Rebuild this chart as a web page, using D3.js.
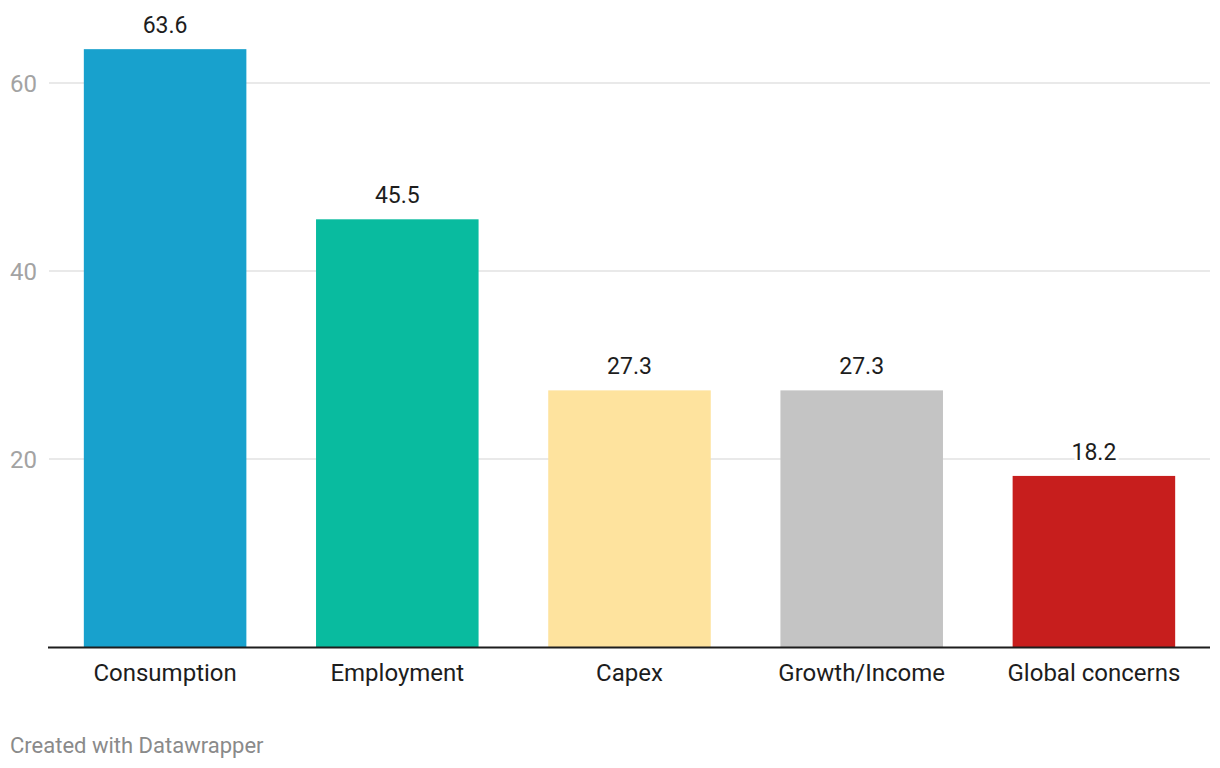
<!DOCTYPE html>
<html><head><meta charset="utf-8">
<script src="https://cdn.jsdelivr.net/npm/d3@7"></script>
<style>body{margin:0;background:#fff;font-family:Roboto,sans-serif;}</style>
</head><body><svg id="c" width="1220" height="768"></svg>
<script>
const categories = ["Consumption","Employment","Capex","Growth/Income","Global concerns"];
const values = [63.6,45.5,27.3,27.3,18.2];
const colors = ["#18a1cd","#09bb9f","#fee39e","#c4c4c4","#c71e1d"];
const yTicks = [20,40,60];

const svg = d3.select("#c");
const x = d3.scaleBand().domain(categories).range([49,1210]).paddingInner(0.3).paddingOuter(0.15);
const y = d3.scaleLinear().domain([0,60]).range([647,83]);

svg.append("g").selectAll("line").data(yTicks).join("line")
  .attr("x1",49).attr("x2",1210).attr("y1",d=>y(d)).attr("y2",d=>y(d))
  .attr("stroke","#e2e2e2").attr("stroke-width",1.5);
svg.append("g").selectAll("text").data(yTicks).join("text")
  .attr("x",10).attr("y",d=>y(d)+8.5).attr("font-size",24).attr("fill","#a3a3a3").text(d=>d);

svg.append("g").selectAll("rect").data(values).join("rect")
  .attr("x",(d,i)=>x(categories[i])).attr("width",x.bandwidth())
  .attr("y",d=>y(d)).attr("height",d=>y(0)-y(d)).attr("fill",(d,i)=>colors[i]);

svg.append("line").attr("x1",48).attr("x2",1210).attr("y1",647.5).attr("y2",647.5)
  .attr("stroke","#1d1d1d").attr("stroke-width",2);

svg.append("g").selectAll("text").data(values).join("text")
  .attr("x",(d,i)=>x(categories[i])+x.bandwidth()/2).attr("y",d=>y(d)-16)
  .attr("text-anchor","middle").attr("font-size",23).attr("fill","#1d1d1d")
  .attr("stroke","#fff").attr("stroke-width",6).attr("paint-order","stroke")
  .text(d=>d.toFixed(1));

svg.append("g").selectAll("text").data(categories).join("text")
  .attr("x",d=>x(d)+x.bandwidth()/2).attr("y",680.5)
  .attr("text-anchor","middle").attr("font-size",24).attr("fill","#1d1d1d").text(d=>d);

svg.append("text").attr("x",10).attr("y",753).attr("font-size",22).attr("fill","#8a8a8a")
  .text("Created with Datawrapper");
</script></body></html>
